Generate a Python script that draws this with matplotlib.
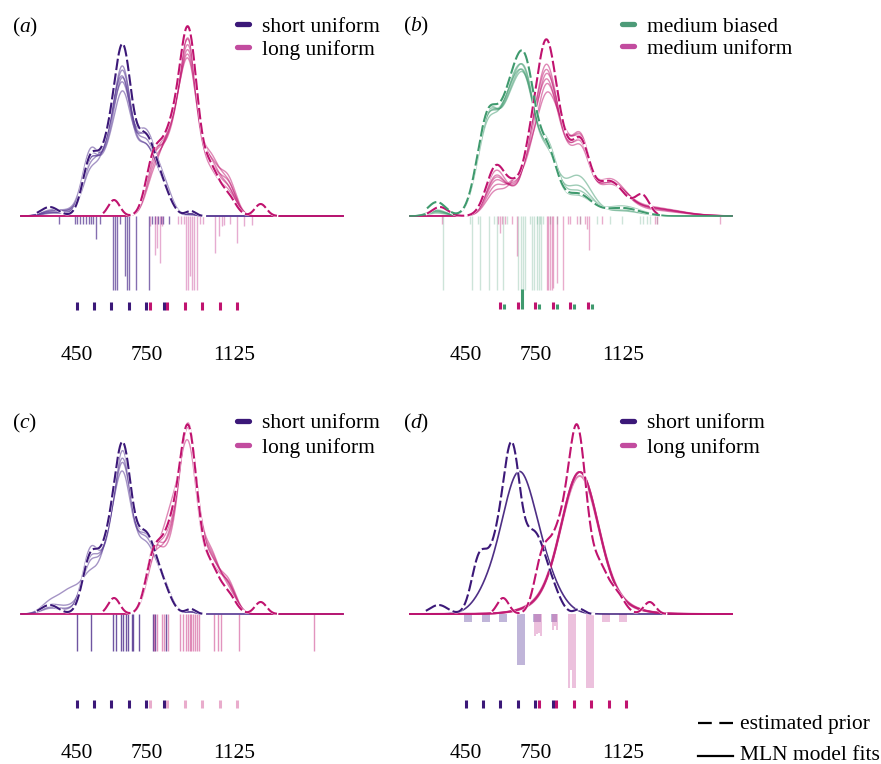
import numpy as np
import matplotlib
matplotlib.use("Agg")
import matplotlib.pyplot as plt
from matplotlib.lines import Line2D

plt.rcParams["font.family"] = "Liberation Serif"
plt.rcParams["mathtext.fontset"] = "custom"
plt.rcParams["mathtext.rm"] = "Liberation Serif"
plt.rcParams["mathtext.it"] = "Liberation Serif:italic"

W, H = 881, 764

# sample intervals (ms)
short_iv = [450, 525, 600, 675, 750, 825]
long_iv = [750, 825, 900, 975, 1050, 1125]
medium_iv = [600, 675, 750, 825, 900, 975]
biased_freq = [5, 20, 5, 5, 5, 5]
uniform_freq = [7, 7, 7, 7, 7, 7]
tick_vals = [450, 750, 1125]

# density curves as sums of bumps: centre (ms), width (ms), heights
short_c = [335, 430, 510, 590, 650, 745, 830, 940]
short_w = [38, 51, 34, 38, 34, 51, 34, 21]
short_prior = [9, 0, 55, 65, 139, 80, 12, 5]
short_fits_a = [[4, 5, 50, 60, 115, 75, 15, 2],
                [3, 3, 45, 70, 105, 80, 12, 2],
                [5, 6, 60, 55, 110, 70, 15, 2],
                [2, 4, 40, 65, 100, 85, 12, 1],
                [4, 5, 50, 60, 120, 70, 14, 2],
                [3, 2, 55, 55, 95, 80, 18, 2]]
short_fits_c = [[6, 5, 50, 60, 125, 75, 15, 2],
                [8, 8, 45, 60, 120, 80, 12, 2],
                [10, 25, 30, 65, 110, 78, 14, 2],
                [5, 4, 60, 55, 135, 70, 15, 2]]

long_c = [611, 781, 853, 930, 1023, 1100, 1240]
long_w = [25, 34, 38, 38, 38, 34, 25]
long_prior = [16, 55, 70, 178, 45, 18, 12]
long_fits_a = [[0, 50, 65, 160, 50, 25, 0],
               [0, 40, 70, 150, 45, 30, 0],
               [0, 55, 60, 168, 40, 22, 0],
               [0, 35, 75, 145, 55, 30, 0],
               [0, 45, 65, 155, 50, 35, 0],
               [0, 50, 70, 165, 45, 25, 0]]
long_fits_c = [[0, 55, 65, 175, 55, 25, 0],
               [0, 60, 55, 180, 50, 30, 0],
               [0, 45, 85, 160, 45, 28, 0],
               [0, 50, 60, 178, 58, 22, 0],
               [0, 58, 50, 182, 52, 26, 0]]

biased_c = [327, 548, 641, 709, 802, 930, 1121]
biased_w = [38, 47, 42, 42, 42, 59, 76]
biased_prior = [14, 100, 90, 130, 60, 22, 8]
biased_fits = [[5, 95, 85, 118, 62, 22, 8],
               [4, 100, 80, 112, 65, 25, 8],
               [6, 90, 90, 115, 58, 30, 6],
               [5, 95, 88, 110, 60, 20, 10],
               [3, 98, 82, 114, 55, 40, 5]]

medium_c = [340, 582, 667, 726, 794, 866, 943, 1066, 1210, 1227]
medium_w = [34, 42, 34, 30, 42, 38, 38, 68, 30, 127]
medium_prior = [9, 50, 25, 40, 165, 50, 65, 35, 18, 0]
medium_fits = [[0, 40, 20, 40, 140, 50, 62, 30, 0, 8],
               [0, 35, 25, 35, 130, 55, 68, 30, 0, 8],
               [0, 45, 18, 45, 125, 50, 58, 32, 0, 6],
               [0, 30, 30, 30, 120, 55, 70, 28, 0, 8],
               [0, 38, 22, 42, 135, 48, 64, 34, 0, 7],
               [0, 25, 30, 35, 110, 60, 65, 30, 0, 9]]

# panel d: single-shape MLN fits
d_short_c = [550, 675, 785]
d_short_w = [60, 69, 69]
d_short_fits = [[20, 130, 35]]
d_long_c = [940, 940]
d_long_w = [76, 136]
d_long_fits = [[115, 27], [112, 30], [118, 24], [110, 28], [116, 26]]

# prior support (ms)
short_range = [280, 1000]
long_range = [564, 1310]
biased_range = [285, 1284]
medium_range = [285, 1276]

# rug lines below the axis: position (ms), length
rug_a_short_x = [375, 444, 452, 465, 478, 491, 504, 512, 521, 534, 551, 607, 615, 624,
                 637, 658, 667, 675, 705, 761, 774, 787, 800, 813, 821, 847]
rug_a_short_l = [8, 8, 8, 8, 8, 8, 8, 8, 8, 23, 8, 74, 74, 74,
                 8, 60, 74, 74, 74, 74, 8, 8, 8, 8, 8, 8]
rug_a_long_x = [765, 787, 795, 808, 817, 885, 898, 911, 920, 928, 937, 945, 954, 967,
                980, 993, 1044, 1061, 1074, 1083, 1109, 1139, 1169, 1203]
rug_a_long_l = [10, 39, 32, 47, 10, 8, 8, 8, 74, 74, 60, 74, 74, 74,
                8, 8, 37, 20, 10, 9, 8, 27, 10, 9]

rug_b_biased_x = [355, 477, 512, 551, 586, 612, 677, 687, 695, 705, 734, 744, 755, 767, 774,
                  469, 504, 572, 628, 727, 757, 770, 782, 812, 843, 941, 1014, 1070, 1122,
                  1199, 1212, 1229, 1242, 1272]
rug_b_biased_l = [74, 74, 74, 74, 74, 74, 74, 74, 74, 74, 74, 74, 74, 74, 74,
                  8, 8, 8, 8, 8, 8, 8, 8, 8, 8, 8, 8, 8, 8,
                  8, 8, 8, 8, 8]
rug_b_medium_x = [348, 589, 598, 607, 619, 648, 672, 798, 805, 812, 820, 827, 841, 867,
                  891, 898, 927, 941, 963, 971, 981, 1034, 1263, 1270, 1542]
rug_b_medium_l = [8, 8, 17, 8, 8, 8, 40, 74, 74, 74, 74, 72, 67, 74,
                  8, 8, 8, 8, 8, 13, 34, 8, 8, 8, 8]

rug_c_short_x = [452, 512, 607, 619, 641, 649, 662, 671, 688, 692, 718, 778, 787, 834]
rug_c_long_x = [782, 795, 817, 825, 843, 894, 907, 920, 928, 937, 941, 950, 958, 967, 976,
                1040, 1057, 1070, 1147, 1469]
rug_c_len = 37

rug_d_short_x = [448, 456, 465, 474, 525, 534, 542, 551, 598, 607, 615, 624,
                 675, 684, 692, 701, 744, 752, 761, 770, 821, 830, 838]
rug_d_short_l = [8, 8, 8, 8, 8, 8, 8, 8, 8, 8, 8, 8,
                 51, 51, 51, 51, 8, 8, 8, 8, 8, 8, 8]
rug_d_long_x = [748, 757, 765, 774, 825, 834, 843, 894, 903, 911, 920, 971, 980, 988, 997,
                1040, 1048, 1057, 1066, 1113, 1121, 1130, 1139]
rug_d_long_l = [22, 20, 19, 22, 16, 12, 16, 74, 56, 74, 74, 74, 74, 74, 74,
                8, 8, 8, 8, 8, 8, 8, 8]

PURPLE = "#3b1878"
PURPLE_FIT = "#5b3d96"
PINK = "#c0136f"
PINK_LEG = "#c24c9f"
GREEN = "#3f9a6e"
GREEN_LEG = "#4d9b78"


def px_to_ms(px):
    return 450 + (px - 76.5) * 4.29


XLO, XHI = px_to_ms(21), px_to_ms(343)


def bumps(x, centres, widths, heights):
    y = np.zeros_like(x)
    for c, w, h in zip(centres, widths, heights):
        y += h * np.exp(-0.5 * ((x - c) / w) ** 2)
    return y


def draw_fits(ax, c, w, rows, color, alpha, lw=1.0):
    x = np.linspace(XLO, XHI, 700)
    for r in rows:
        ax.plot(x, bumps(x, c, w, r), color=color, lw=lw, alpha=alpha, zorder=3)


def draw_prior(ax, rng, c, w, h, color):
    x = np.linspace(rng[0], rng[1], 500)
    y = bumps(x, c, w, h)
    ax.plot(x, y, color="white", lw=2.0, zorder=4)
    ax.plot(x, y, color=color, lw=1.5, dashes=(5.5, 1.6), zorder=5)


def rug(ax, xs, lens, color, alpha, lw=1.0):
    ax.vlines(xs, -np.asarray(lens, dtype=float), 0, colors=color, lw=lw, alpha=alpha, zorder=2)


def dots(ax, xs, color, alpha=1.0, shift=0, heights=None):
    xs = np.asarray(xs, dtype=float) + shift
    if heights is None:
        ax.vlines(xs, -94, -86, colors=color, lw=2.2, alpha=alpha, zorder=2)
    else:
        ax.vlines(xs, -93, -93 + np.asarray(heights, dtype=float), colors=color, lw=2.2,
                  alpha=alpha, zorder=2)


fig = plt.figure(figsize=(W / 100, H / 100), dpi=100)


def panel(x0, y0, h, base):
    ax = fig.add_axes([x0 / W, 1 - (y0 + h) / H, 389 / W, h / H])
    ax.set_xlim(px_to_ms(0), px_to_ms(389))
    ax.set_ylim(base - (y0 + h), base - y0)
    ax.axis("off")
    for v in tick_vals:
        ax.text(v, -139, str(v), ha="center", va="center", fontsize=15.5)
    return ax


def fx(px):
    return px / W


def fy(py):
    return 1 - py / H


def legend_entry(xm, y, color, label):
    fig.add_artist(Line2D([fx(xm), fx(xm + 12)], [fy(y), fy(y)], color=color, lw=3.8,
                          solid_capstyle="round"))
    fig.text(fx(xm + 25), fy(y + 3), label, va="center", fontsize=15.5)


# (a)
ax = panel(0, 0, 390, 216)
draw_fits(ax, short_c, short_w, short_fits_a, PURPLE_FIT, 0.55)
draw_fits(ax, long_c, long_w, long_fits_a, PINK, 0.5)
draw_prior(ax, short_range, short_c, short_w, short_prior, PURPLE)
draw_prior(ax, long_range, long_c, long_w, long_prior, PINK)
rug(ax, rug_a_short_x, rug_a_short_l, PURPLE_FIT, 0.75)
rug(ax, rug_a_long_x, rug_a_long_l, "#c8479a", 0.45)
dots(ax, short_iv, PURPLE)
dots(ax, long_iv, PINK, shift=14)

# (b)
ax = panel(389, 0, 390, 216)
draw_fits(ax, medium_c, medium_w, medium_fits, PINK, 0.5)
draw_fits(ax, biased_c, biased_w, biased_fits, GREEN, 0.5)
draw_prior(ax, medium_range, medium_c, medium_w, medium_prior, PINK)
draw_prior(ax, biased_range, biased_c, biased_w, biased_prior, GREEN)
rug(ax, rug_b_biased_x, rug_b_biased_l, "#5aa683", 0.3)
rug(ax, rug_b_medium_x, rug_b_medium_l, PINK, 0.35)
dots(ax, medium_iv, PINK, heights=uniform_freq)
dots(ax, medium_iv, GREEN, shift=17, heights=biased_freq)

# (c)
ax = panel(0, 398, 366, 614)
draw_fits(ax, short_c, short_w, short_fits_c, PURPLE_FIT, 0.55)
draw_fits(ax, long_c, long_w, long_fits_c, PINK, 0.5)
draw_prior(ax, short_range, short_c, short_w, short_prior, PURPLE)
draw_prior(ax, long_range, long_c, long_w, long_prior, PINK)
rug(ax, rug_c_short_x, [rug_c_len] * len(rug_c_short_x), "#4b2b8a", 0.8)
rug(ax, rug_c_long_x, [rug_c_len] * len(rug_c_long_x), PINK, 0.45)
dots(ax, short_iv, PURPLE)
dots(ax, long_iv, PINK, alpha=0.35, shift=14)

# (d)
ax = panel(389, 398, 366, 614)
draw_fits(ax, d_short_c, d_short_w, d_short_fits, PURPLE, 0.9, lw=1.2)
draw_fits(ax, d_long_c, d_long_w, d_long_fits, PINK, 0.5, lw=1.4)
draw_prior(ax, short_range, short_c, short_w, short_prior, PURPLE)
draw_prior(ax, long_range, long_c, long_w, long_prior, PINK)
rug(ax, rug_d_short_x, rug_d_short_l, "#6a50a5", 0.5, lw=1.2)
rug(ax, rug_d_long_x, rug_d_long_l, "#c8479a", 0.4, lw=1.2)
dots(ax, short_iv, PURPLE)
dots(ax, long_iv, PINK, shift=14)

# panel letters
for lx, ly, letter in [(12, 25, "a"), (403, 24, "b"), (12, 421, "c"), (403, 421, "d")]:
    fig.text(fx(lx), fy(ly + 2), "($\\mathit{%s}$)" % letter, va="center", fontsize=15.5)

legend_entry(237, 24, PURPLE, "short uniform")
legend_entry(237, 47, PINK_LEG, "long uniform")
legend_entry(622, 24, GREEN_LEG, "medium biased")
legend_entry(622, 46, PINK_LEG, "medium uniform")
legend_entry(237, 421, PURPLE, "short uniform")
legend_entry(237, 445, PINK_LEG, "long uniform")
legend_entry(622, 421, PURPLE, "short uniform")
legend_entry(622, 445, PINK_LEG, "long uniform")

# line-style key
fig.add_artist(Line2D([fx(698), fx(733)], [fy(723), fy(723)], color="black", lw=1.6,
                      dashes=(6.2, 3.4)))
fig.text(fx(740), fy(725), "estimated prior", va="center", fontsize=15.5)
fig.add_artist(Line2D([fx(698), fx(733)], [fy(756), fy(756)], color="black", lw=1.6))
fig.text(fx(740), fy(755), "MLN model fits", va="center", fontsize=15.5)

fig.savefig("out.png", dpi=100)
